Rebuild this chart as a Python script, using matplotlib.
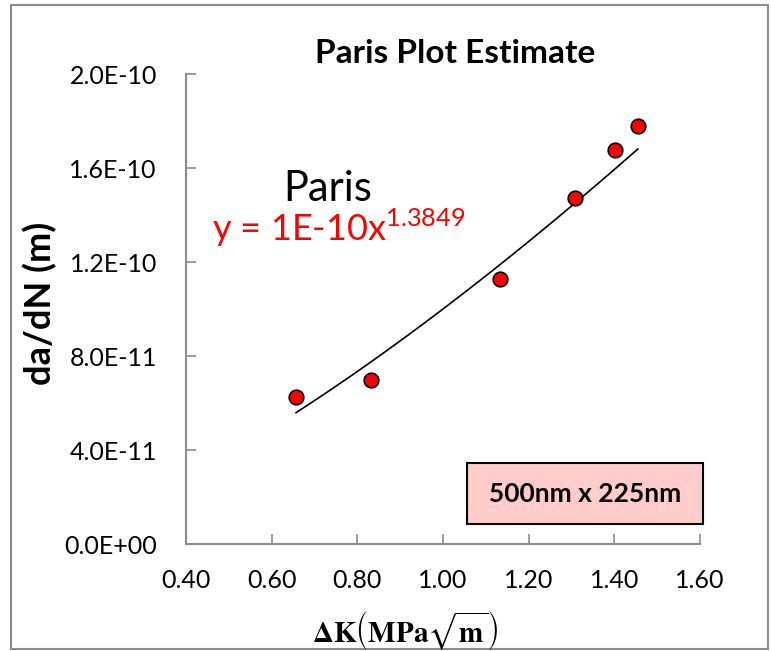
import numpy as np
import matplotlib
matplotlib.use("Agg")
import matplotlib.pyplot as plt
from matplotlib.patches import Rectangle

plt.rcParams['font.family'] = ['Lato', 'DejaVu Sans']

# === Crack growth data ===
delta_K = [0.657, 0.831, 1.134, 1.308, 1.402, 1.455]          # MPa sqrt(m)
da_dN = [6.27e-11, 6.98e-11, 1.126e-10, 1.474e-10, 1.677e-10, 1.780e-10]  # m/cycle

# Paris law fit y = C x^m
C_fit = 1e-10
m_fit = 1.3849

x_ticks = [0.40, 0.60, 0.80, 1.00, 1.20, 1.40, 1.60]
y_ticks = [0.0, 4.0e-11, 8.0e-11, 1.2e-10, 1.6e-10, 2.0e-10]
y_tick_labels = ['0.0E+00', '4.0E-11', '8.0E-11', '1.2E-10', '1.6E-10', '2.0E-10']

W, H = 772, 651
fig = plt.figure(figsize=(W / 100, H / 100), dpi=100)
fig.patches.append(Rectangle((11 / W, 2 / H), 757 / W, 644 / H, transform=fig.transFigure,
                             fill=False, edgecolor='#8c8c8c', linewidth=1.5))
ax = fig.add_axes([186 / W, 107 / H, 514 / W, 470 / H])

# fitted power law
xf = np.linspace(min(delta_K), max(delta_K), 200)
ax.plot(xf, C_fit * xf**m_fit, color='black', linewidth=1.2, zorder=2)

# measured points
ax.scatter(delta_K, da_dN, s=110, color='#ff0000', edgecolor='black', linewidth=1.2, zorder=3)

ax.set_xlim(0.40, 1.60)
ax.set_ylim(0, 2.0e-10)
ax.set_xticks(x_ticks)
ax.set_xticklabels([f'{v:.2f}' for v in x_ticks])
ax.set_yticks(y_ticks)
ax.set_yticklabels(y_tick_labels)
ax.tick_params(direction='in', length=7, width=1.2, color='#8c8c8c', labelsize=18)
ax.tick_params(axis='x', pad=18)
ax.tick_params(axis='y', pad=21)

for side in ['top', 'right']:
    ax.spines[side].set_visible(False)
for side in ['left', 'bottom']:
    ax.spines[side].set_color('#8c8c8c')
    ax.spines[side].set_linewidth(1.5)

fig.text(455 / W, 1 - 63 / H, 'Paris Plot Estimate', fontsize=24, fontweight='bold',
         ha='center', va='baseline')
fig.text(40 / W, 1 - 303 / H, 'da/dN (m)', fontsize=26, fontweight='bold',
         rotation=90, ha='center', va='center')
fig.text(405 / W, 1 - 631 / H, r'$\mathbf{\Delta K}\left(\mathbf{MPa}\sqrt{\mathbf{m}}\right)$',
         fontsize=21, math_fontfamily='stix', ha='center', va='center')

# trendline label
fig.text(283 / W, 1 - 201 / H, 'Paris', fontsize=30, color='black', va='baseline')
fig.text(212 / W, 1 - 241 / H, r'y = 1E-10x$^{\mathregular{1.3849}}$', fontsize=26,
         color='#ff0000', va='baseline')

# specimen size box
fig.patches.append(Rectangle((467 / W, 1 - 524 / H), 236 / W, 61 / H, transform=fig.transFigure,
                             facecolor='#ffcccc', edgecolor='black', linewidth=1.5))
fig.text(585 / W, 1 - 494 / H, '500nm x 225nm', fontsize=19, fontweight='bold',
         ha='center', va='center')

fig.savefig('out.png', dpi=100)
